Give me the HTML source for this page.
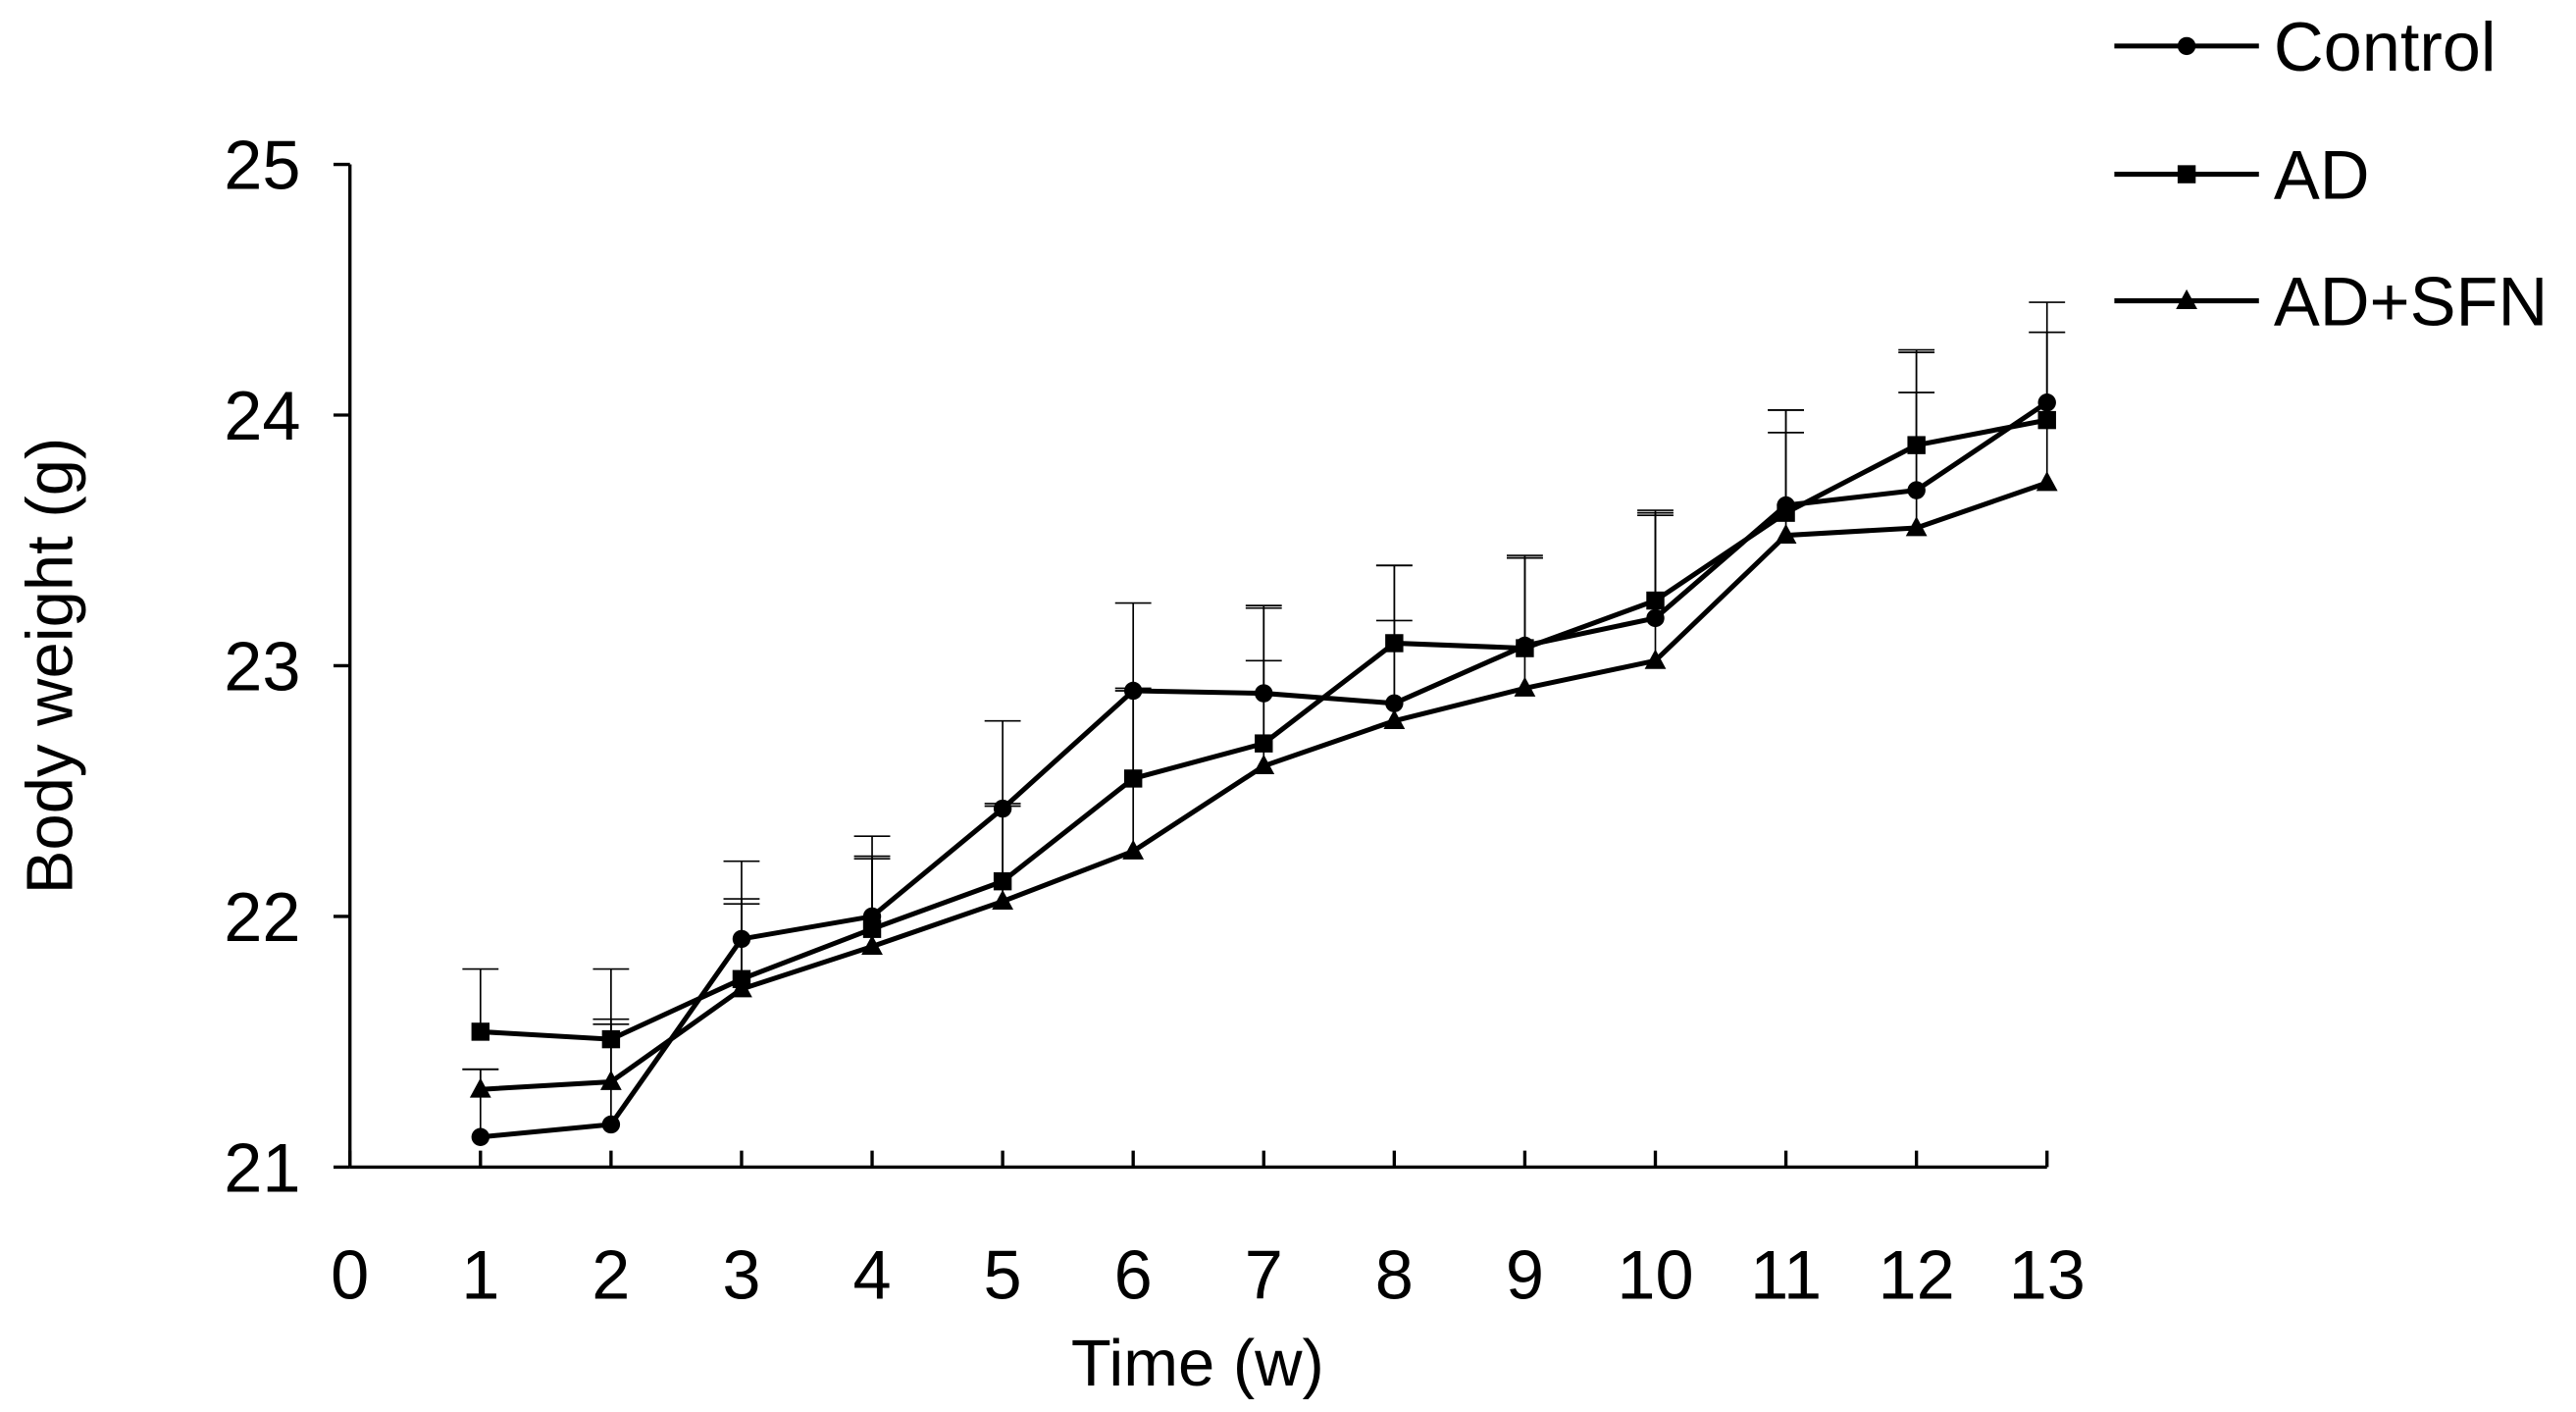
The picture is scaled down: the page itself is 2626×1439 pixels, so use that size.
<!DOCTYPE html>
<html><head><meta charset="utf-8">
<style>html,body{margin:0;padding:0;background:#fff;}svg{display:block;}</style>
</head><body>
<svg id="chart" width="2626" height="1439" viewBox="0 0 1568 859" preserveAspectRatio="none" xmlns="http://www.w3.org/2000/svg" font-family="'Liberation Sans', sans-serif">
</svg>
<script>
const weeks = [1,2,3,4,5,6,7,8,9,10,11,12,13];
const xTicks = [0,1,2,3,4,5,6,7,8,9,10,11,12,13];
const yTicks = [21,22,23,24,25];
const controlValues = [21.12,21.17,21.91,22.0,22.43,22.90,22.89,22.85,23.08,23.19,23.64,23.70,24.05];
const adValues = [21.54,21.51,21.75,21.95,22.14,22.55,22.69,23.09,23.07,23.26,23.61,23.88,23.98];
const sfnValues = [21.31,21.34,21.71,21.88,22.06,22.26,22.60,22.78,22.91,23.02,23.52,23.55,23.73];
const controlErr = [0.27,0.40,0.31,0.32,0.35,0.35,0.35,0.33,0.36,0.43,0.38,0.55,0.40];
const adErr = [0.25,0.28,0.30,0.28,0.30,0.35,0.33,0.31,0.36,0.35,0.41,0.38,0.35];
const sfnErr = [0.08,0.25,0.36,0.36,0.39,0.65,0.63,0.62,0.52,0.58,0.41,0.54,0.60];

const svg = document.getElementById('chart');
const NS = 'http://www.w3.org/2000/svg';
const X0 = 213, XS = (1246-213)/13;
const Y0 = 710, YS = (710-100)/4;
const xs = v => X0 + v*XS;
const ys = v => Y0 - (v-21)*YS;
function mk(tag, attrs, parent){const e=document.createElementNS(NS,tag);for(const k in attrs)e.setAttribute(k,attrs[k]);(parent||svg).appendChild(e);return e;}

let ax = mk('line',{x1:X0,y1:100,x2:X0,y2:Y0,stroke:'#000','stroke-width':2});


ax = mk('line',{x1:X0,y1:Y0,x2:xs(13),y2:Y0,stroke:'#000','stroke-width':2});


yTicks.forEach(t=>{
  const l=mk('line',{x1:X0,y1:ys(t),x2:X0-10,y2:ys(t),stroke:'#000','stroke-width':2});
  
  
  const tx=mk('text',{x:X0-30,y:ys(t)+15,'text-anchor':'end','font-size':42});
  tx.textContent=t;
  
  
});
xTicks.forEach(t=>{
  const l=mk('line',{x1:xs(t),y1:Y0,x2:xs(t),y2:Y0-10,stroke:'#000','stroke-width':2});
  
  
  const tx=mk('text',{x:xs(t),y:790,'text-anchor':'middle','font-size':42});
  tx.textContent=t;
  
  
});
let tt=mk('text',{x:729,y:843,'text-anchor':'middle','font-size':40});
tt.textContent='Time (w)';


tt=mk('text',{x:0,y:0,'text-anchor':'middle','font-size':40,transform:'translate(44,405) rotate(-90)'});
tt.textContent='Body weight (g)';



function marker(g,type,x,y,s){
  let m;
  if(type==='circle') m=mk('circle',{cx:x,cy:y,r:5.5*s,fill:'#000'},g);
  else if(type==='square') m=mk('rect',{x:x-5.5*s,y:y-5.5*s,width:11*s,height:11*s,fill:'#000'},g);
  else m=mk('polygon',{points:`${x},${y-7*s} ${x+6.5*s},${y+5*s} ${x-6.5*s},${y+5*s}`,fill:'#000'},g);
  return m;
}
const series=[
  {name:'Control',vals:controlValues,err:controlErr,m:'circle'},
  {name:'AD',vals:adValues,err:adErr,m:'square'},
  {name:'AD+SFN',vals:sfnValues,err:sfnErr,m:'triangle'}
];
series.forEach((s,si)=>{
  const g=mk('g',{});
  
  
  s.vals.forEach((v,i)=>{
    const x=xs(weeks[i]),y1=ys(v),y2=ys(v+s.err[i]);
    const e=mk('path',{d:`M${x},${y1}V${y2}M${x-11},${y2}H${x+11}`,stroke:'#000','stroke-width':1,fill:'none'},g);
    
    
  });
  const p=mk('polyline',{points:s.vals.map((v,i)=>xs(weeks[i])+','+ys(v)).join(' '),fill:'none',stroke:'#000','stroke-width':3},g);
  
  
  s.vals.forEach((v,i)=>{
    const m=marker(g,s.m,xs(weeks[i]),ys(v),1);
    
    
  });
  const ly=[28,106,183][si];
  const lg=mk('g',{});
  
  
  mk('line',{x1:1287,y1:ly,x2:1375,y2:ly,stroke:'#000','stroke-width':3},lg);
  marker(lg,s.m,1331,ly,1);
  const t=mk('text',{x:1384,y:ly+15,'font-size':42},lg);
  t.textContent=s.name;
});
</script>
</body></html>
